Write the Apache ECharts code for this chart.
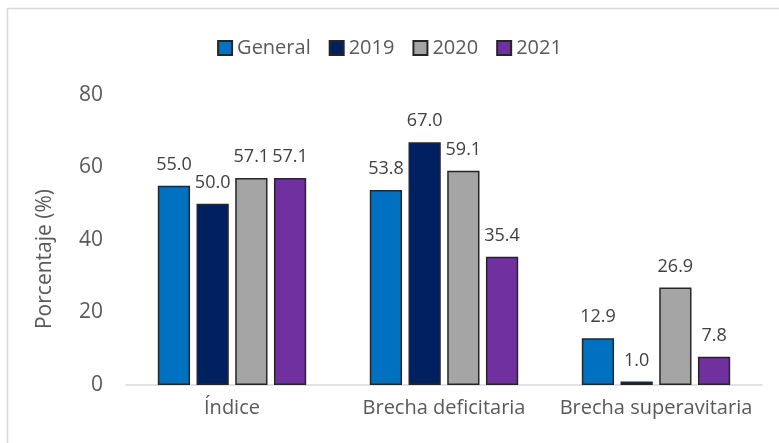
<!DOCTYPE html>
<html>
<head>
<meta charset="utf-8">
<script src="https://cdn.jsdelivr.net/npm/echarts@6/dist/echarts.min.js"></script>
<style>
  html, body { margin: 0; padding: 0; background: #fff; }
  #chart { width: 779px; height: 443px; }
</style>
</head>
<body>
<div id="chart"></div>
<script>
// datos
let categories = ['Índice', 'Brecha deficitaria', 'Brecha superavitaria']
let seriesNames = ['General', '2019', '2020', '2021']
let general = [55.0, 53.8, 12.9]
let y2019 = [50.0, 67.0, 1.0]
let y2020 = [57.1, 59.1, 26.9]
let y2021 = [57.1, 35.4, 7.8]
let colors = ['#0070C0', '#002060', '#A5A5A5', '#7030A0']

let font = 'Open Sans'
let textColor = '#595959'

let chart = echarts.init(document.getElementById('chart'))

let values = [general, y2019, y2020, y2021]

let option = {
  animation: false,
  textStyle: { fontFamily: font },
  legend: {
    top: 33,
    left: 'center',
    itemWidth: 14,
    itemHeight: 14,
    itemGap: 18,
    itemTextGap: 4,
    icon: 'rect',
    textStyle: { color: textColor, fontSize: 20, fontFamily: font },
    data: seriesNames,
  },
  grid: {
    left: 126,
    right: 17,
    top: 95,
    bottom: 58,
  },
  xAxis: {
    type: 'category',
    data: categories,
    axisTick: { show: false },
    axisLine: { lineStyle: { color: '#d9d9d9', width: 1.5 } },
    axisLabel: { color: textColor, fontSize: 20, margin: 13, interval: 0, fontFamily: font },
  },
  yAxis: {
    type: 'value',
    min: 0,
    max: 80,
    interval: 20,
    splitLine: { show: false },
    axisLine: { show: false },
    axisTick: { show: false },
    axisLabel: { color: textColor, fontSize: 21, margin: 23, fontFamily: font },
  },
  graphic: [
    {
      type: 'rect',
      left: 5,
      top: 6,
      shape: { width: 800, height: 500 },
      style: { fill: 'none', stroke: '#d9d9d9', lineWidth: 1.5 },
      silent: true,
    },
    {
      type: 'text',
      x: 45,
      y: 259,
      rotation: Math.PI / 2,
      style: {
        text: 'Porcentaje (%)',
        fill: textColor,
        font: '21px "Open Sans"',
        textAlign: 'center',
        textVerticalAlign: 'middle',
      },
    },
  ],
  series: seriesNames.map((name, i) => ({
    name: name,
    type: 'bar',
    data: values[i],
    barGap: '20%',
    barCategoryGap: '30%',
    itemStyle: {
      color: colors[i],
      borderColor: '#262626',
      borderWidth: 1.5,
    },
    label: {
      show: true,
      position: 'top',
      distance: 12,
      color: '#404040',
      fontSize: 18,
      fontFamily: font,
      formatter: (p) => p.value.toFixed(1),
    },
  })),
}

chart.setOption(option)
</script>
</body>
</html>
